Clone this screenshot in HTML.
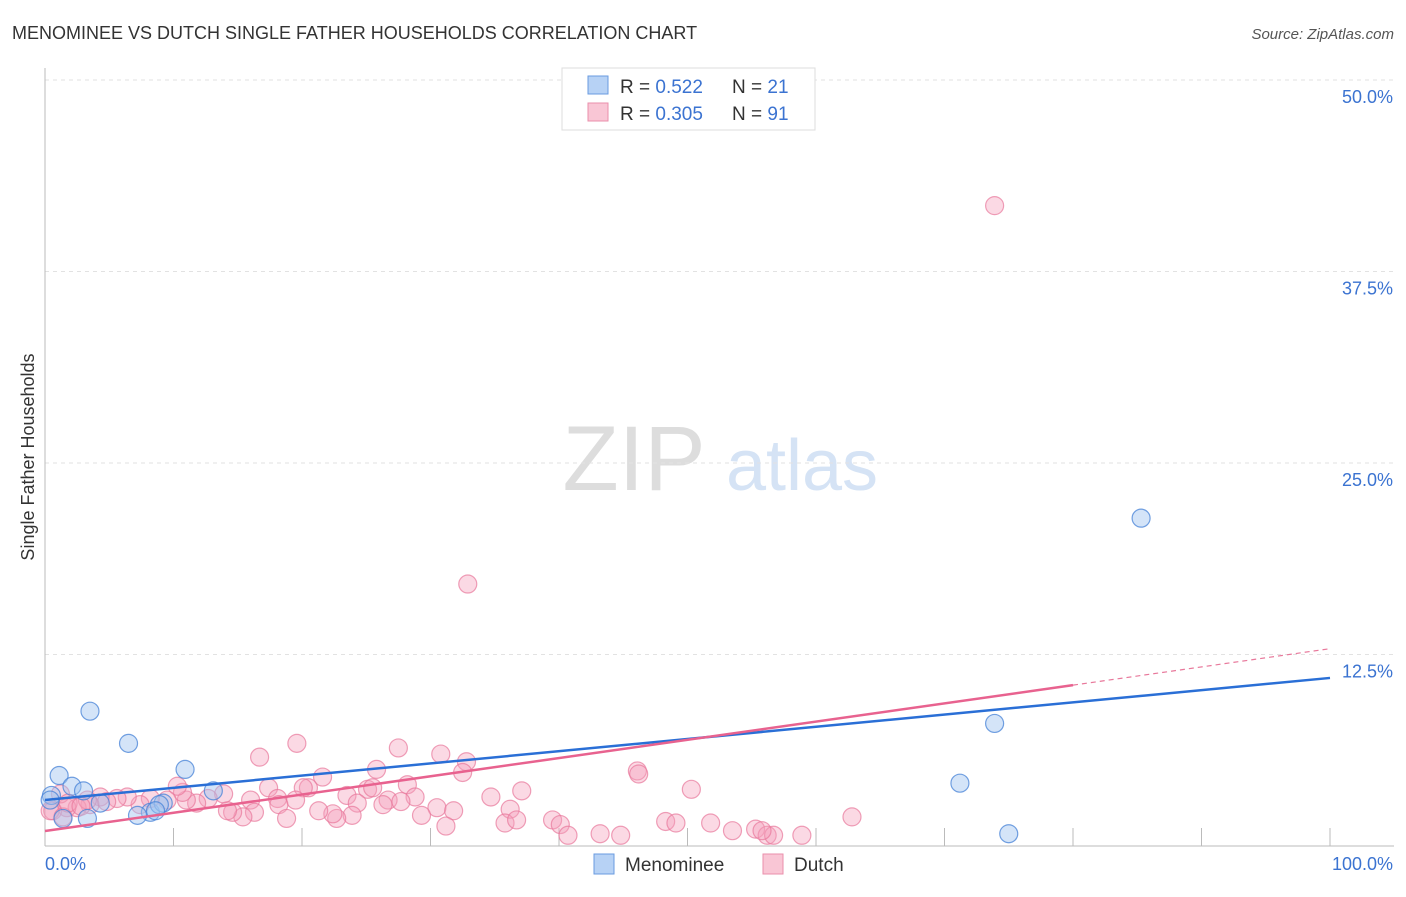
<!DOCTYPE html>
<html><head><meta charset="utf-8"><style>
body{margin:0;background:#fff;font-family:"Liberation Sans",sans-serif;}
svg text{font-family:"Liberation Sans",sans-serif;}
</style></head><body>
<svg id="c" width="1406" height="892" xmlns="http://www.w3.org/2000/svg">
<text x="12" y="39" font-size="18" fill="#333">MENOMINEE VS DUTCH SINGLE FATHER HOUSEHOLDS CORRELATION CHART</text>
<text x="1394" y="39" font-size="15" fill="#555" font-style="italic" text-anchor="end">Source: ZipAtlas.com</text>
<text x="34" y="457" font-size="18" fill="#333" transform="rotate(-90 34 457)" text-anchor="middle">Single Father Households</text>
<g><text x="634" y="490" font-size="92" fill="#ddd" font-family="Liberation Serif" text-anchor="middle">ZIP</text><text x="802" y="490" font-size="72" fill="#d5e3f5" text-anchor="middle">atlas</text></g>
<g id="grid"></g><g id="pts"></g><g id="lines"></g>
<g>
<rect x="562" y="68" width="253" height="62" fill="#fff" stroke="#ddd"/>
<rect x="588" y="76" width="20" height="18" fill="#b7d2f5" stroke="#6a9be0"/>
<rect x="588" y="103" width="20" height="18" fill="#f9c6d5" stroke="#ea8fab"/>
<text x="620" y="93" font-size="19" fill="#333">R = <tspan fill="#3b73d1">0.522</tspan></text>
<text x="732" y="93" font-size="19" fill="#333">N = <tspan fill="#3b73d1">21</tspan></text>
<text x="620" y="120" font-size="19" fill="#333">R = <tspan fill="#3b73d1">0.305</tspan></text>
<text x="732" y="120" font-size="19" fill="#333">N = <tspan fill="#3b73d1">91</tspan></text>
</g>
<g>
<rect x="594" y="854" width="20" height="20" fill="#b7d2f5" stroke="#6a9be0"/>
<text x="625" y="871" font-size="19" fill="#333">Menominee</text>
<rect x="763" y="854" width="20" height="20" fill="#f9c6d5" stroke="#ea8fab"/>
<text x="794" y="871" font-size="19" fill="#333">Dutch</text>
</g>
</svg>
<script>
const yTicks=[12.5,25,37.5,50];
const yTickLabels=["12.5%","25.0%","37.5%","50.0%"];
const xTickLabels=["0.0%","100.0%"];
const menomineeX=[3.5,6.5,10.9,1.1,2.1,3.0,0.5,0.4,4.3,8.2,9.2,13.1,8.9,7.2,3.3,1.4,85.3,73.9,71.2,75.0,8.6];
const menomineeY=[8.8,6.7,5.0,4.6,3.9,3.6,3.3,3.0,2.8,2.2,2.8,3.6,2.7,2.0,1.8,1.8,21.4,8.0,4.1,0.8,2.3];
const dutchX=[16.7,19.6,27.5,30.8,32.8,32.5,25.8,21.6,17.4,20.5,20.1,23.5,25.1,25.5,28.2,28.8,26.7,26.3,27.7,37.1,34.7,30.5,31.8,29.3,31.2,36.2,35.8,36.7,24.3,23.9,22.7,22.4,21.3,19.5,18.1,18.2,18.8,16.0,16.3,15.4,14.6,14.2,13.9,12.7,11.8,11.0,10.7,10.3,9.5,8.2,7.4,6.4,5.6,4.3,3.5,2.5,1.7,1.2,0.6,0.4,1.4,4.8,3.3,46.1,46.2,50.3,39.5,40.1,40.7,43.2,44.8,48.3,49.1,51.8,53.5,55.3,56.2,56.7,55.8,58.9,62.8,32.9,73.9,1.8,2.8];
const dutchY=[5.8,6.7,6.4,6.0,5.5,4.8,5.0,4.5,3.8,3.8,3.8,3.3,3.7,3.8,4.0,3.2,3.0,2.7,2.9,3.6,3.2,2.5,2.3,2.0,1.3,2.4,1.5,1.7,2.8,2.0,1.8,2.1,2.3,3.0,3.1,2.7,1.8,3.0,2.2,1.9,2.2,2.3,3.4,3.1,2.8,3.0,3.5,3.9,3.0,3.1,2.7,3.2,3.1,3.2,2.7,2.5,2.5,3.4,2.3,2.3,1.9,2.9,3.0,4.9,4.7,3.7,1.7,1.4,0.7,0.8,0.7,1.6,1.5,1.5,1.0,1.1,0.7,0.7,1.0,0.7,1.9,17.1,41.8,2.8,2.6];
const blueLine=[3.0,10.97];
const pinkLine=[0.98,12.88];
const pinkSolidEnd=80;
const X0=45,X1=1330,Y0=846,PPU=191.5/12.5;
const sx=v=>X0+(X1-X0)*v/100, sy=v=>Y0-v*PPU;
const NS="http://www.w3.org/2000/svg";
function mk(p,t,a){const e=document.createElementNS(NS,t);for(const k in a)e.setAttribute(k,a[k]);p.appendChild(e);return e;}
const grid=document.getElementById('grid'),pts=document.getElementById('pts'),lines=document.getElementById('lines'),svg=document.getElementById('c');
yTicks.forEach((t,i)=>{
 const l=mk(grid,'line',{x1:X0,x2:1394,y1:sy(t),y2:sy(t),stroke:'#e2e2e2','stroke-dasharray':'4,4'});
 
 
 const tx=mk(grid,'text',{x:1393,y:sy(t)+23,'font-size':18,fill:'#3b73d1','text-anchor':'end'});
 tx.textContent=yTickLabels[i];
 
 
});
const ax=mk(grid,'line',{x1:X0,x2:X0,y1:68,y2:Y0,stroke:'#bbb'});


const bx=mk(grid,'line',{x1:X0,x2:1394,y1:Y0,y2:Y0,stroke:'#bbb'});


for(let i=1;i<=10;i++){const t=mk(grid,'line',{x1:sx(i*10),x2:sx(i*10),y1:828,y2:Y0,stroke:'#bbb'});
 
 }
[[0,'start',45],[100,'end',1393]].forEach((d,i)=>{const t=mk(grid,'text',{x:d[2],y:870,'font-size':18,fill:'#3b73d1','text-anchor':d[1]});t.textContent=xTickLabels[i];
 
 });
dutchX.forEach((x,i)=>{const c=mk(pts,'circle',{cx:sx(x),cy:sy(dutchY[i]),r:9,fill:'rgba(246,160,188,0.4)',stroke:'rgba(232,120,155,0.7)','stroke-width':1.2});
 
 });
menomineeX.forEach((x,i)=>{const c=mk(pts,'circle',{cx:sx(x),cy:sy(menomineeY[i]),r:9,fill:'rgba(160,196,240,0.45)',stroke:'rgba(70,130,215,0.75)','stroke-width':1.2});
 
 });
const pAt=x=>pinkLine[0]+(pinkLine[1]-pinkLine[0])*x/100;
const pd=mk(lines,'line',{x1:sx(pinkSolidEnd),y1:sy(pAt(pinkSolidEnd)),x2:sx(100),y2:sy(pinkLine[1]),stroke:'#e8789b','stroke-width':1.2,'stroke-dasharray':'5,4'});


const bl=mk(lines,'line',{x1:sx(0),y1:sy(blueLine[0]),x2:sx(100),y2:sy(blueLine[1]),stroke:'#2a6fd6','stroke-width':2.5});


const pl=mk(lines,'line',{x1:sx(0),y1:sy(pinkLine[0]),x2:sx(pinkSolidEnd),y2:sy(pAt(pinkSolidEnd)),stroke:'#e8628f','stroke-width':2.5});


</script>
</body></html>
